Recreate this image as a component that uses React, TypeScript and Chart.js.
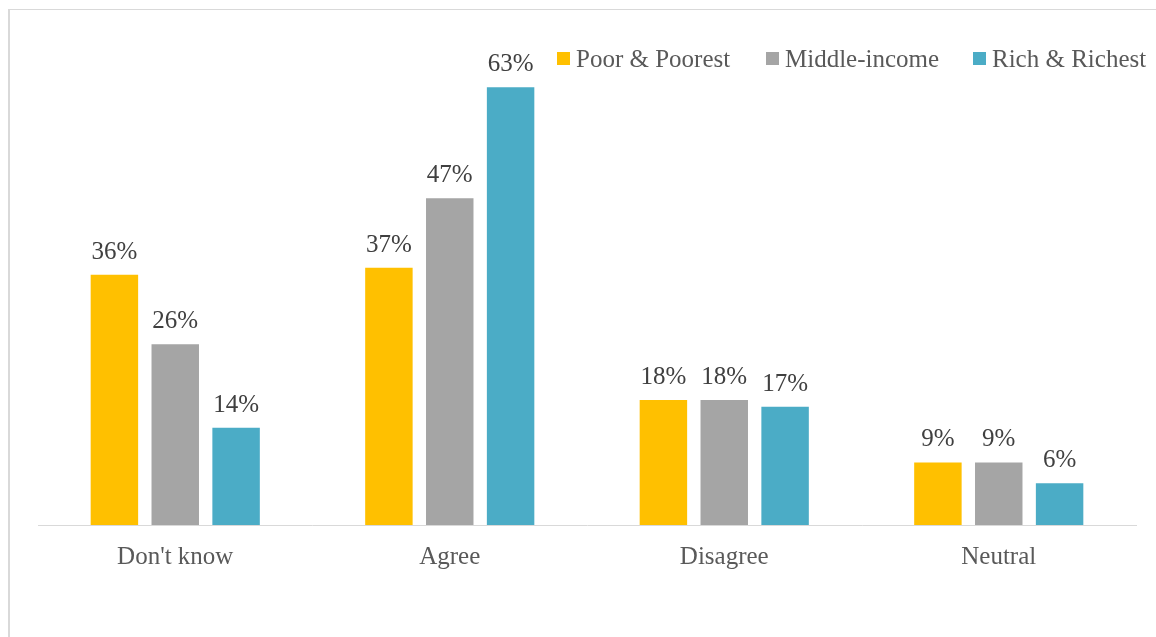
import React, { useEffect, useRef } from "react";
import { Chart, registerables } from "chart.js";

Chart.register(...registerables);

const categories = ["Don't know", "Agree", "Disagree", "Neutral"];
const seriesNames = ["Poor & Poorest", "Middle-income", "Rich & Richest"];
const poorValues = [36, 37, 18, 9];
const middleValues = [26, 47, 18, 9];
const richValues = [14, 63, 17, 6];
const seriesColors = ["#FFC000", "#A5A5A5", "#4BACC6"];

const FONT = "'Liberation Serif', serif";

const valueLabelPlugin = {
  id: "valueLabels",
  afterDatasetsDraw(chart: any) {
    const ctx = chart.ctx;
    ctx.save();
    ctx.font = `25px ${FONT}`;
    ctx.fillStyle = "#404040";
    ctx.textAlign = "center";
    ctx.textBaseline = "alphabetic";
    chart.data.datasets.forEach((ds: any, i: number) => {
      const meta = chart.getDatasetMeta(i);
      meta.data.forEach((el: any, j: number) => {
        ctx.fillText(`${ds.data[j]}%`, el.x, el.y - 16);
      });
    });
    ctx.restore();
  },
};

const legendPlugin = {
  id: "customLegend",
  afterDraw(chart: any) {
    const ctx = chart.ctx;
    ctx.save();
    ctx.font = `25px ${FONT}`;
    ctx.textBaseline = "alphabetic";
    const box = 13;
    const gapText = 6;
    const items = chart.data.datasets.map((ds: any) => ({
      label: ds.label,
      color: ds.backgroundColor,
      w: ctx.measureText(ds.label).width,
    }));
    const starts = [557, 766, 973];
    const baseline = 67;
    items.forEach((it: any, i: number) => {
      const x = starts[i];
      ctx.fillStyle = it.color;
      ctx.fillRect(x, 52, box, box);
      ctx.fillStyle = "#595959";
      ctx.fillText(it.label, x + box + gapText, baseline);
    });
    ctx.restore();
  },
};

export default function App() {
  const canvasRef = useRef<HTMLCanvasElement | null>(null);

  useEffect(() => {
    if (!canvasRef.current) return;
    const chart = new Chart(canvasRef.current, {
      type: "bar",
      data: {
        labels: categories,
        datasets: [poorValues, middleValues, richValues].map((vals, i) => ({
          label: seriesNames[i],
          data: vals,
          backgroundColor: seriesColors[i],
          borderWidth: 0,
          categoryPercentage: 0.665,
          barPercentage: 0.78,
        })),
      },
      options: {
        responsive: false,
        animation: false,
        maintainAspectRatio: false,
        layout: { padding: { left: 38, right: 20, top: 38.5, bottom: 48 } },
        plugins: {
          legend: { display: false },
          tooltip: { enabled: false },
        },
        scales: {
          x: {
            grid: { display: false, drawTicks: false },
            border: { display: true, color: "#D9D9D9", width: 1 },
            ticks: {
              font: { family: FONT, size: 25 },
              color: "#595959",
              padding: 17,
            },
          },
          y: {
            display: false,
            min: 0,
            max: 70,
          },
        },
      },
      plugins: [valueLabelPlugin, legendPlugin],
    });
    return () => chart.destroy();
  }, []);

  return (
    <div
      style={{
        position: "fixed",
        left: 0,
        top: 0,
        width: 1156,
        height: 637,
        overflow: "hidden",
        background: "#ffffff",
      }}
    >
      <div
        style={{
          position: "absolute",
          left: 8,
          top: 9,
          width: 1300,
          height: 800,
          borderLeft: "2px solid #D9D9D9",
          borderTop: "1px solid #D9D9D9",
        }}
      />
      <canvas
        ref={canvasRef}
        width={1156}
        height={637}
        style={{ position: "absolute", left: 0, top: 0, width: 1156, height: 637 }}
      />
    </div>
  );
}
